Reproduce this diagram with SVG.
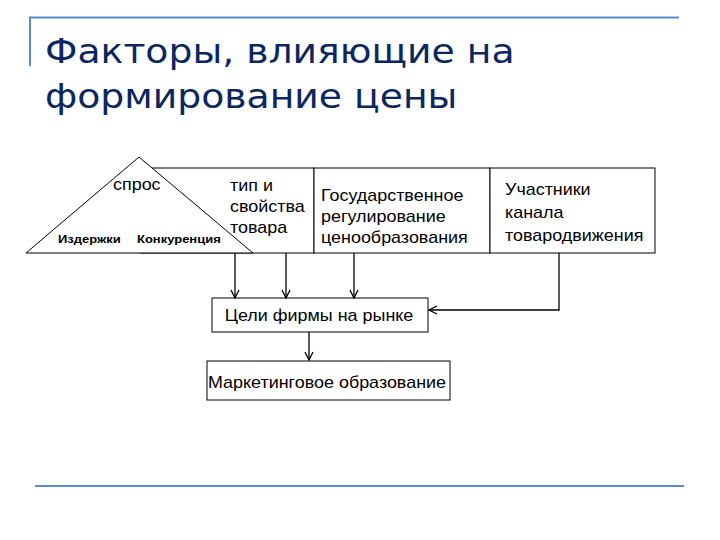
<svg xmlns="http://www.w3.org/2000/svg" width="720" height="540" viewBox="0 0 720 540">
<defs>
<style>
.t{font-family:"Liberation Sans",Arial,sans-serif;font-size:16.2px;fill:#000}
.b{font-family:"Liberation Sans",Arial,sans-serif;font-size:11.6px;font-weight:bold;fill:#000}
.box{fill:#fff;stroke:#000;stroke-width:1}
.c{fill:none;stroke:#000;stroke-width:1.3}
.title{font-family:"DejaVu Sans",sans-serif;font-size:34px;fill:#0c2660}
.deco{stroke:#5a8ccb;stroke-width:2;fill:none}
</style>
<marker id="ar" viewBox="0 0 10 10" refX="9" refY="5" markerWidth="10" markerHeight="10" markerUnits="userSpaceOnUse" orient="auto">
<path d="M1,1 L9,5 L1,9" fill="none" stroke="#000" stroke-width="1.3"/>
</marker>
</defs>
<rect width="720" height="540" fill="#fff"/>
<g id="decor">
<path class="deco" d="M30,66 V17.5 H679"/>
<path class="deco" d="M35,486 H684"/>
</g>
<g id="title">
<text class="title" transform="translate(45,63) scale(1.11,1)">Факторы, влияющие на</text>
<text class="title" transform="translate(45,108) scale(1.11,1)">формирование цены</text>
</g>
<g id="box-type">
<rect class="box" x="140" y="168" width="174" height="85"/>
<text class="t" transform="translate(230,191) scale(1.107,1)">тип и</text>
<text class="t" transform="translate(230,212) scale(1.107,1)">свойства</text>
<text class="t" transform="translate(230,233) scale(1.107,1)">товара</text>
</g>
<g id="triangle">
<polygon class="box" points="139,157 253,253 26,253"/>
<text class="t" transform="translate(113,190) scale(1.107,1)">спрос</text>
<text class="b" transform="translate(58,243) scale(1.12,1)">Издержки</text>
<text class="b" transform="translate(137,243) scale(1.12,1)">Конкуренция</text>
</g>
<g id="box-gov">
<rect class="box" x="314" y="168" width="176" height="85"/>
<text class="t" transform="translate(321,201) scale(1.107,1)">Государственное</text>
<text class="t" transform="translate(321,222) scale(1.107,1)">регулирование</text>
<text class="t" transform="translate(321,243) scale(1.107,1)">ценообразования</text>
</g>
<g id="box-channel">
<rect class="box" x="490" y="168" width="165" height="85"/>
<text class="t" transform="translate(505,195) scale(1.107,1)">Участники</text>
<text class="t" transform="translate(505,218) scale(1.107,1)">канала</text>
<text class="t" transform="translate(505,241) scale(1.107,1)">товародвижения</text>
</g>
<g id="box-goals">
<rect class="box" x="212" y="298" width="216" height="34"/>
<text class="t" text-anchor="middle" transform="translate(319,321) scale(1.107,1)">Цели фирмы на рынке</text>
</g>
<g id="box-marketing">
<rect class="box" x="207" y="361" width="243" height="39"/>
<text class="t" text-anchor="middle" transform="translate(327,388) scale(1.107,1)">Маркетинговое образование</text>
</g>
<g id="connectors">
<path class="c" d="M235,253 V298" marker-end="url(#ar)"/>
<path class="c" d="M286,253 V298" marker-end="url(#ar)"/>
<path class="c" d="M354,253 V298" marker-end="url(#ar)"/>
<path class="c" d="M559,253 V310 H429" marker-end="url(#ar)"/>
<path class="c" d="M309,332 V360" marker-end="url(#ar)"/>
</g>
</svg>
